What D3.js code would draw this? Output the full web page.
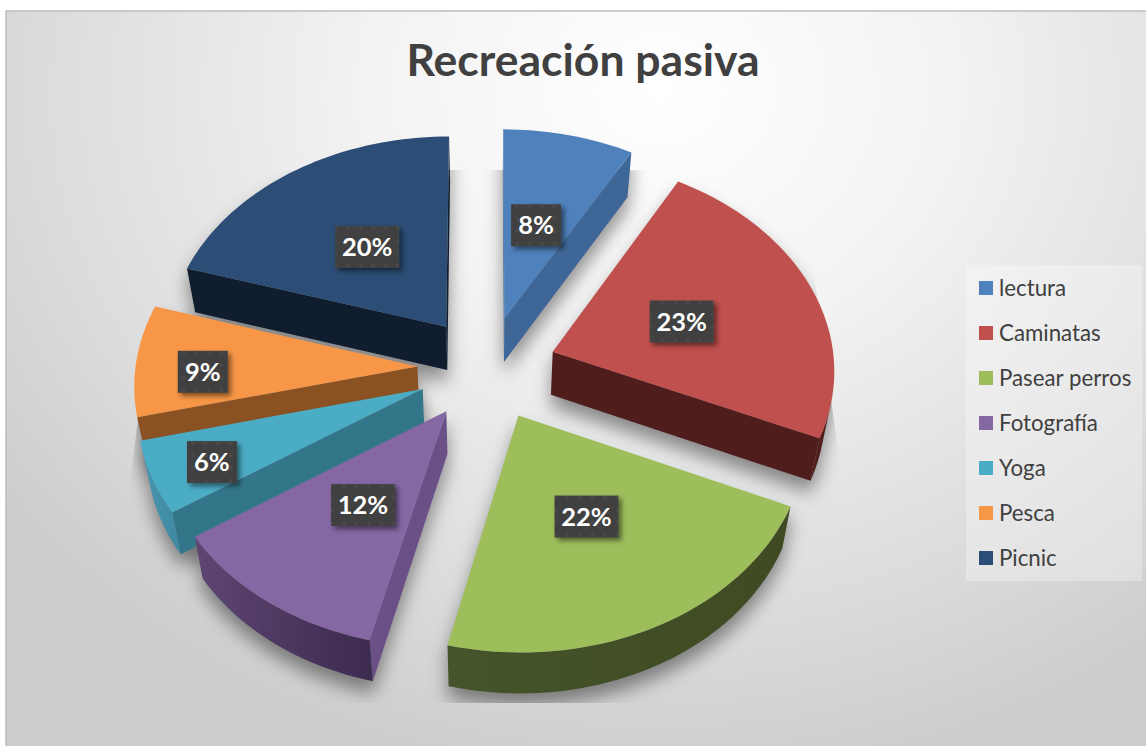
<!DOCTYPE html>
<html>
<head>
<meta charset="utf-8">
<script src="https://cdn.jsdelivr.net/npm/d3@7"></script>
<style>
  html, body { margin: 0; padding: 0; background: #fff; }
  svg { display: block; }
  text { font-family: Lato, "Open Sans", sans-serif; }
</style>
</head>
<body>
<svg width="1146" height="746"></svg>
<script>
var titleText = "Recreación pasiva";
var categories = ["lectura", "Caminatas", "Pasear perros", "Fotografía", "Yoga", "Pesca", "Picnic"];
var shares = [8.2, 23.4, 22.2, 11.9, 5.5, 8.5, 20.3];
var topColors = ["#4f81bd", "#c0504d", "#9ebe5c", "#8567a4", "#4bacc6", "#f79646", "#2c4d75"];
var radialWallColors = ["#3e6797", "#4e1d1c", "#3f4a22", "#6b5088", "#33768a", "#8a5223", "#101d2f"];
var arcWallStart = ["#3e6797", "#4e1d1c", "#3f4a22", "#3d2b50", "#3f8ba3", "#8a5223", "#101d2f"];
var arcWallEnd = ["#3e6797", "#4e1d1c", "#45542a", "#5e4672", "#4998b1", "#8a5223", "#101d2f"];
// label placement on each slice: share of the radius, and turn in degrees from the middle
var labelReach = [0.49, 0.49, 0.5, 0.5, 0.79, 0.76, 0.5];
var labelTurn = [-0.5, 1, -0.5, -1.5, -1.3, -3.5, 0];

var svg = d3.select("svg");
var defs = svg.append("defs");

// flat pie is projected by hand, fitted to the picture
var cx = 487, cy = 368;
var radiusX = 282, radiusY = 211;
var persp = 0.077;
var explode = 0.247;
var depth = 43;
var bottomScale = 0.973;

function project(x, y, z) {
  var w = 1 + persp * y;
  var sx = (radiusX * x) / w;
  var sy = (-radiusY * y) / w;
  if (z) {
    sx = sx * bottomScale;
    sy = sy + depth * (1 + 0.04 * y);
  }
  return [cx + sx, cy + sy];
}

var pie = d3.pie().sort(null).value(function (d) { return d; });
var slices = pie(shares).map(function (d) {
  d.mid = (d.startAngle + d.endAngle) / 2;
  d.ox = explode * Math.sin(d.mid);
  d.oy = explode * Math.cos(d.mid);
  return d;
});

function rimPoint(d, angle, reach) {
  return [d.ox + reach * Math.sin(angle), d.oy + reach * Math.cos(angle)];
}

function outline(d) {
  var pts = [[d.ox, d.oy]];
  var steps = Math.ceil((d.endAngle - d.startAngle) / 0.03);
  d3.range(steps + 1).forEach(function (i) {
    pts.push(rimPoint(d, d.startAngle + ((d.endAngle - d.startAngle) * i) / steps, 1));
  });
  return pts;
}

var line = d3.line();

function facePath(d, z) {
  return line(outline(d).map(function (p) { return project(p[0], p[1], z); })) + "Z";
}

function solidPath(d) {
  var hull = d3.polygonHull(
    outline(d).map(function (p) { return project(p[0], p[1], 0); })
      .concat(outline(d).map(function (p) { return project(p[0], p[1], 1); }))
  );
  return line(hull) + "Z";
}

// side walls of one slice, back facing ones are dropped
// the visible part of the rim is merged to one shape so it has no seams
function walls(d) {
  var i = d.index;
  var pts = outline(d);
  var out = [];
  var rimTop = [];
  var rimBottom = [];
  pts.forEach(function (p, k) {
    var q = pts[(k + 1) % pts.length];
    var a = project(p[0], p[1], 0);
    var b = project(q[0], q[1], 0);
    var c = project(q[0], q[1], 1);
    var e = project(p[0], p[1], 1);
    if (d3.polygonArea([a, b, c, e]) <= 0) return;
    if (k === 0 || k === pts.length - 1) {
      out.push({ path: line([a, b, c, e]) + "Z", color: radialWallColors[i] });
    } else {
      if (!rimTop.length) {
        rimTop.push(a);
        rimBottom.push(e);
      }
      rimTop.push(b);
      rimBottom.push(c);
    }
  });
  if (rimTop.length) {
    var grad = defs.append("linearGradient")
      .attr("id", "rim" + i)
      .attr("gradientUnits", "userSpaceOnUse")
      .attr("x1", rimTop[0][0]).attr("y1", 0)
      .attr("x2", rimTop[rimTop.length - 1][0]).attr("y2", 0);
    grad.append("stop").attr("offset", 0).attr("stop-color", arcWallStart[i]);
    grad.append("stop").attr("offset", 1).attr("stop-color", arcWallEnd[i]);
    out.push({
      path: line(rimTop.concat(rimBottom.reverse())) + "Z",
      color: "url(#rim" + i + ")"
    });
  }
  return out;
}

// background
var bg = defs.append("radialGradient")
  .attr("id", "bg")
  .attr("gradientUnits", "userSpaceOnUse")
  .attr("cx", 0).attr("cy", 0).attr("r", 1)
  .attr("gradientTransform", "translate(660,90) scale(820,700)");
bg.append("stop").attr("offset", "0").attr("stop-color", "#ffffff");
bg.append("stop").attr("offset", "0.35").attr("stop-color", "#f3f3f3");
bg.append("stop").attr("offset", "0.75").attr("stop-color", "#dcdcdc");
bg.append("stop").attr("offset", "1").attr("stop-color", "#cccccc");

svg.append("rect")
  .attr("x", 6).attr("y", 11)
  .attr("width", 1140).attr("height", 735)
  .attr("fill", "url(#bg)");
svg.append("path").attr("d", "M6,746V11H1146").attr("fill", "none").attr("stroke", "#bdbdbd").attr("stroke-width", 1.5);

// shadow behind the pie, cut off by a box like the picture
defs.append("filter").attr("id", "pieBlur")
  .attr("x", "-30%").attr("y", "-30%").attr("width", "160%").attr("height", "160%")
  .append("feGaussianBlur").attr("stdDeviation", 9);
defs.append("clipPath").attr("id", "shadowBox")
  .append("path").attr("d", "M170,170H800L846,510V703H122V545Z");

svg.append("g")
  .attr("clip-path", "url(#shadowBox)")
  .append("g")
  .attr("filter", "url(#pieBlur)")
  .attr("transform", "translate(0,12)")
  .selectAll("path")
  .data(slices)
  .enter()
  .append("path")
  .attr("d", solidPath)
  .attr("fill", "#000")
  .attr("fill-opacity", 0.42);

// pie, back slices first
var order = slices.slice().sort(function (a, b) { return b.oy - a.oy; });
var sliceG = svg.append("g")
  .selectAll(".slice")
  .data(order)
  .enter()
  .append("g")
  .attr("class", "slice");

sliceG.selectAll(".wall")
  .data(walls)
  .enter()
  .append("path")
  .attr("class", "wall")
  .attr("d", function (w) { return w.path; })
  .attr("fill", function (w) { return w.color; });

sliceG.append("path")
  .attr("d", function (d) { return facePath(d, 0); })
  .attr("fill", function (d) { return topColors[d.index]; });

// title
svg.append("text")
  .attr("x", 583).attr("y", 76)
  .attr("text-anchor", "middle")
  .attr("font-size", 44.5)
  .attr("font-weight", 700)
  .attr("fill", "#404040")
  .text(titleText);

// data labels
var dots = defs.append("pattern")
  .attr("id", "dots")
  .attr("patternUnits", "userSpaceOnUse")
  .attr("width", 12.5).attr("height", 12.5);
dots.append("rect").attr("width", 12.5).attr("height", 12.5).attr("fill", "#404040");
dots.append("circle").attr("cx", 6).attr("cy", 6).attr("r", 1.8).attr("fill", "#4a4a4a");

defs.append("filter").attr("id", "labelShadow")
  .attr("x", "-30%").attr("y", "-30%").attr("width", "170%").attr("height", "170%")
  .append("feDropShadow")
  .attr("dx", 3).attr("dy", 3).attr("stdDeviation", 2.5)
  .attr("flood-color", "#000").attr("flood-opacity", 0.5);

var label = svg.append("g")
  .selectAll(".label")
  .data(slices)
  .enter()
  .append("g")
  .attr("class", "label")
  .attr("transform", function (d) {
    var angle = d.mid + (labelTurn[d.index] * Math.PI) / 180;
    var p = rimPoint(d, angle, labelReach[d.index]);
    return "translate(" + project(p[0], p[1], 0) + ")";
  });

label.append("rect")
  .attr("x", function (d) { return d.value >= 10 ? -32 : -25; })
  .attr("y", -21)
  .attr("width", function (d) { return d.value >= 10 ? 64 : 50; })
  .attr("height", 42)
  .attr("fill", "url(#dots)")
  .attr("filter", "url(#labelShadow)");

label.append("text")
  .attr("text-anchor", "middle")
  .attr("y", 9)
  .attr("font-size", 25.5)
  .attr("font-weight", 700)
  .attr("fill", "#fff")
  .text(function (d) { return Math.round(d.value) + "%"; });

// legend
svg.append("rect")
  .attr("x", 966).attr("y", 265)
  .attr("width", 176).attr("height", 316)
  .attr("fill", "#fff").attr("fill-opacity", 0.3);

var legendY = d3.scalePoint().domain(categories).range([288, 558]);
var legend = svg.append("g")
  .selectAll(".legend")
  .data(categories)
  .enter()
  .append("g")
  .attr("class", "legend")
  .attr("transform", function (d) { return "translate(979," + legendY(d) + ")"; });

legend.append("rect")
  .attr("y", -7)
  .attr("width", 14).attr("height", 14)
  .attr("fill", function (d, i) { return topColors[i]; });

legend.append("text")
  .attr("x", 20).attr("y", 7.5)
  .attr("font-size", 22.3)
  .attr("fill", "#404040")
  .text(function (d) { return d; });
</script>
</body>
</html>
